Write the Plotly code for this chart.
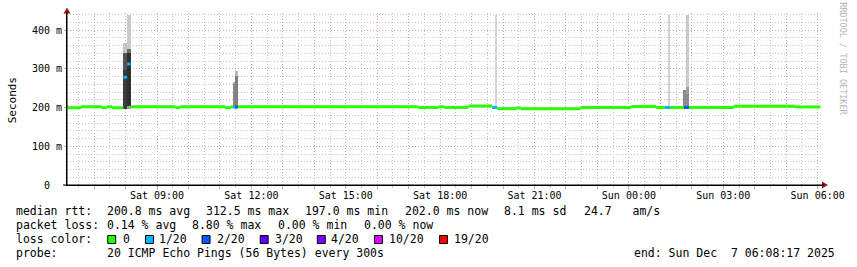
import plotly.graph_objects as go
import pandas as pd

# ---------------- data ----------------
x_start = "2025-12-06 06:08:17"
x_end = "2025-12-07 06:08:17"

# median rtt step segments (start time, value in ms, loss index)
med_start = [
    "2025-12-06 06:08:17", "2025-12-06 06:10:00", "2025-12-06 06:35:00", "2025-12-06 07:15:00",
    "2025-12-06 07:24:00", "2025-12-06 07:34:00", "2025-12-06 07:56:00", "2025-12-06 08:03:00",
    "2025-12-06 08:09:30", "2025-12-06 09:35:00", "2025-12-06 09:44:00", "2025-12-06 11:10:00",
    "2025-12-06 11:21:00", "2025-12-06 11:24:40", "2025-12-06 11:29:00", "2025-12-06 11:34:00",
    "2025-12-06 17:17:00", "2025-12-06 17:57:00", "2025-12-06 18:08:00", "2025-12-06 18:54:00",
    "2025-12-06 19:39:00", "2025-12-06 19:49:00", "2025-12-06 20:25:00", "2025-12-06 20:34:00",
    "2025-12-06 22:28:00", "2025-12-07 00:04:00", "2025-12-07 00:52:00", "2025-12-07 01:09:00",
    "2025-12-07 01:18:30", "2025-12-07 01:45:00", "2025-12-07 01:55:00", "2025-12-07 03:20:00",
    "2025-12-07 05:17:00",
]
med_value = [
    202, 199.5, 202, 199.5,
    202, 199.5, 278, 312.5,
    202, 199.5, 202, 199.5,
    202, 201, 201, 202,
    200, 202, 200, 204,
    200, 197, 199, 197,
    200, 202.5, 200, 200,
    200, 200, 200, 203,
    201.5,
]
med_loss = [
    0, 0, 0, 0,
    0, 0, 1, 1,
    0, 0, 0, 0,
    0, 1, 2, 0,
    0, 0, 0, 0,
    1, 0, 0, 0,
    0, 0, 0, 1,
    0, 2, 0, 0,
    0,
]
med_end = "2025-12-07 06:05:00"

# smoke bands (ping spread)
smoke_start = [
    "2025-12-06 07:56:00", "2025-12-06 07:56:00", "2025-12-06 07:56:00",
    "2025-12-06 08:03:00", "2025-12-06 08:03:00", "2025-12-06 08:03:00", "2025-12-06 08:03:00",
    "2025-12-06 11:24:40", "2025-12-06 11:24:40",
    "2025-12-06 11:29:00", "2025-12-06 11:29:00",
    "2025-12-06 19:44:00", "2025-12-07 01:14:00",
    "2025-12-07 01:45:00", "2025-12-07 01:48:40", "2025-12-07 01:48:40", "2025-12-07 01:48:40",
]
smoke_end = [
    "2025-12-06 08:03:00", "2025-12-06 08:03:00", "2025-12-06 08:03:00",
    "2025-12-06 08:09:30", "2025-12-06 08:09:30", "2025-12-06 08:09:30", "2025-12-06 08:09:30",
    "2025-12-06 11:29:00", "2025-12-06 11:29:00",
    "2025-12-06 11:34:00", "2025-12-06 11:34:00",
    "2025-12-06 19:49:00", "2025-12-07 01:18:30",
    "2025-12-07 01:48:40", "2025-12-07 01:55:00", "2025-12-07 01:55:00", "2025-12-07 01:55:00",
]
smoke_low = [197, 297, 340, 197, 203, 340, 352, 199, 260, 199, 282, 199, 199, 199, 199, 236, 252]
smoke_high = [297, 340, 366, 203, 340, 352, 440, 260, 267, 282, 295, 440, 440, 245, 236, 252, 440]
smoke_shade = ["#3a3a3a", "#555555", "#c4c4c4",
               "#a0a0a0", "#303030", "#6e6e6e", "#cbcbcb",
               "#888888", "#aaaaaa", "#808080", "#bbbbbb",
               "#d4d4d4", "#d4d4d4",
               "#8c8c8c", "#8c8c8c", "#9e9e9e", "#cacaca"]

loss_labels = ["0", "1/20", "2/20", "3/20", "4/20", "10/20", "19/20"]
loss_colors = ["#26ff00", "#00b8ff", "#0059ff", "#5e00ff", "#7e00ff", "#dd00ff", "#ff0000"]

y_tickvals = [0, 100, 200, 300, 400]
y_ticktext = ["0\u00a0\u00a0", "100 m", "200 m", "300 m", "400 m"]

x_tickvals = pd.date_range("2025-12-06 07:00", "2025-12-07 06:00", freq="1h")
x_ticktext = [t.strftime("%a %H:%M") if t.hour % 3 == 0 else "" for t in x_tickvals]

stats_line1 = ["median rtt:", "200.8 ms avg", "312.5 ms max", "197.0 ms min",
               "202.0 ms now", "8.1 ms sd", "24.7   am/s"]
stats_line2 = ["packet loss:", "0.14 % avg", "8.80 % max", "0.00 % min", "0.00 % now"]
probe_text = ["probe:", "20 ICMP Echo Pings (56 Bytes) every 300s", "end: Sun Dec  7 06:08:17 2025"]

# ---------------- layout geometry ----------------
W, H = 857, 267
L, R, T, B = 67, 827, 13, 185
FONT = "DejaVu Sans Mono"


def px(x):
    return (x - L) / (R - L)


def py(y):
    return (B - y) / (B - T)


fig = go.Figure()

# smoke
s0 = pd.to_datetime(pd.Series(smoke_start), format="mixed")
s1 = pd.to_datetime(pd.Series(smoke_end), format="mixed")
centers = s0 + (s1 - s0) / 2
widths = (s1 - s0).dt.total_seconds() * 1000
fig.add_trace(go.Bar(
    x=list(centers), y=[h - l for h, l in zip(smoke_high, smoke_low)], base=smoke_low,
    width=list(widths), marker=dict(color=smoke_shade, line=dict(width=0)),
    showlegend=False, hoverinfo="skip",
))

# median lines coloured by loss
starts = list(pd.to_datetime(pd.Series(med_start), format="mixed"))
ends = starts[1:] + [pd.Timestamp(med_end)]
for li, col in enumerate(loss_colors):
    xs, ys = [], []
    for s, e, v, l in zip(starts, ends, med_value, med_loss):
        if l == li:
            xs += [s, e, None]
            ys += [v, v, None]
    if xs:
        fig.add_trace(go.Scatter(x=xs, y=ys, mode="lines",
                                 line=dict(color=col, width=3),
                                 showlegend=False, hoverinfo="skip"))

MAJ = "#e3a0a0"
MIN = "#c4c4c4"
fig.update_layout(
    width=W, height=H,
    margin=dict(l=L, r=W - R, t=T, b=H - B),
    paper_bgcolor="white", plot_bgcolor="white",
    barmode="overlay", bargap=0,
    font=dict(family=FONT, size=10, color="#000000"),
    xaxis=dict(
        type="date", range=[x_start, x_end],
        tickmode="array", tickvals=list(x_tickvals), ticktext=x_ticktext,
        showgrid=True, gridcolor=MAJ, griddash="1px,2px", gridwidth=1,
        ticks="outside", ticklen=3, tickcolor=MAJ, ticklabelstandoff=-2,
        minor=dict(tickmode="linear", tick0="2025-12-06 00:30", dtick=3600000,
                   showgrid=True, gridcolor=MIN, griddash="1px,2px",
                   ticks="outside", ticklen=2, tickcolor=MIN),
        showline=True, linecolor="#000000", linewidth=1,
        zeroline=False, tickfont=dict(family=FONT, size=10),
        fixedrange=True,
    ),
    yaxis=dict(
        range=[0, 444],
        tickmode="array", tickvals=y_tickvals, ticktext=y_ticktext,
        showgrid=True, gridcolor=MAJ, griddash="1px,2px", gridwidth=1,
        ticks="outside", ticklen=2, tickcolor=MAJ,
        minor=dict(tickmode="linear", tick0=0, dtick=20,
                   showgrid=True, gridcolor=MIN, griddash="1px,2px"),
        showline=True, linecolor="#000000", linewidth=1,
        zeroline=False, tickfont=dict(family=FONT, size=10),
        fixedrange=True,
    ),
)

# arrows and axis lines
ARROW = "#8e1b1b"
fig.add_shape(type="path", xref="paper", yref="paper",
              path=f"M {px(63.5)} {py(13.5)} L {px(70.5)} {py(13.5)} L {px(67)} {py(7.5)} Z",
              fillcolor=ARROW, line=dict(width=0))
fig.add_shape(type="path", xref="paper", yref="paper",
              path=f"M {px(827)} {py(181.5)} L {px(827)} {py(188.5)} L {px(833)} {py(185)} Z",
              fillcolor=ARROW, line=dict(width=0))
fig.add_shape(type="line", xref="paper", yref="paper",
              x0=px(67), x1=px(67), y0=py(185), y1=py(12), line=dict(color="black", width=1))
fig.add_shape(type="line", xref="paper", yref="paper",
              x0=px(63), x1=px(829), y0=py(185), y1=py(185), line=dict(color="black", width=1))


def text(x, y, s, size=11.5, color="#000000", angle=0, xanchor="left"):
    fig.add_annotation(x=px(x), y=py(y), xref="paper", yref="paper", text=s,
                       showarrow=False, xanchor=xanchor, yanchor="middle",
                       textangle=angle, borderpad=0, borderwidth=0,
                       font=dict(family=FONT, size=size, color=color))


# y title and watermark
text(12, 100, "Seconds", size=11, angle=-90, xanchor="center")
text(848, 59, "RRDTOOL / TOBI OETIKER", size=8.5, color="#b4b4b4", angle=90, xanchor="center")

# legend lines
row_y = [211, 225, 239, 252.5]
for xpos, s in zip([16, 107, 207, 307, 407, 507, 587], stats_line1):
    text(xpos, row_y[0], s)
for xpos, s in zip([16, 107, 193, 279, 365.5], stats_line2):
    text(xpos, row_y[1], s)
text(16, row_y[2], "loss color:")
box_x = [108, 146, 203, 261.5, 319, 376.5, 442]
lab_x = [123, 160, 218, 276, 333, 391.5, 456.5]
for bx, lx, lab, col in zip(box_x, lab_x, loss_labels, loss_colors):
    fig.add_shape(type="rect", xref="paper", yref="paper",
                  x0=px(bx), x1=px(bx + 8), y0=py(235.5), y1=py(243.5),
                  fillcolor=col, line=dict(color="black", width=1))
    text(lx, row_y[2], lab)
text(16, row_y[3], probe_text[0])
text(107, row_y[3], probe_text[1])
text(638, row_y[3], probe_text[2])

fig.write_html("out.html")
